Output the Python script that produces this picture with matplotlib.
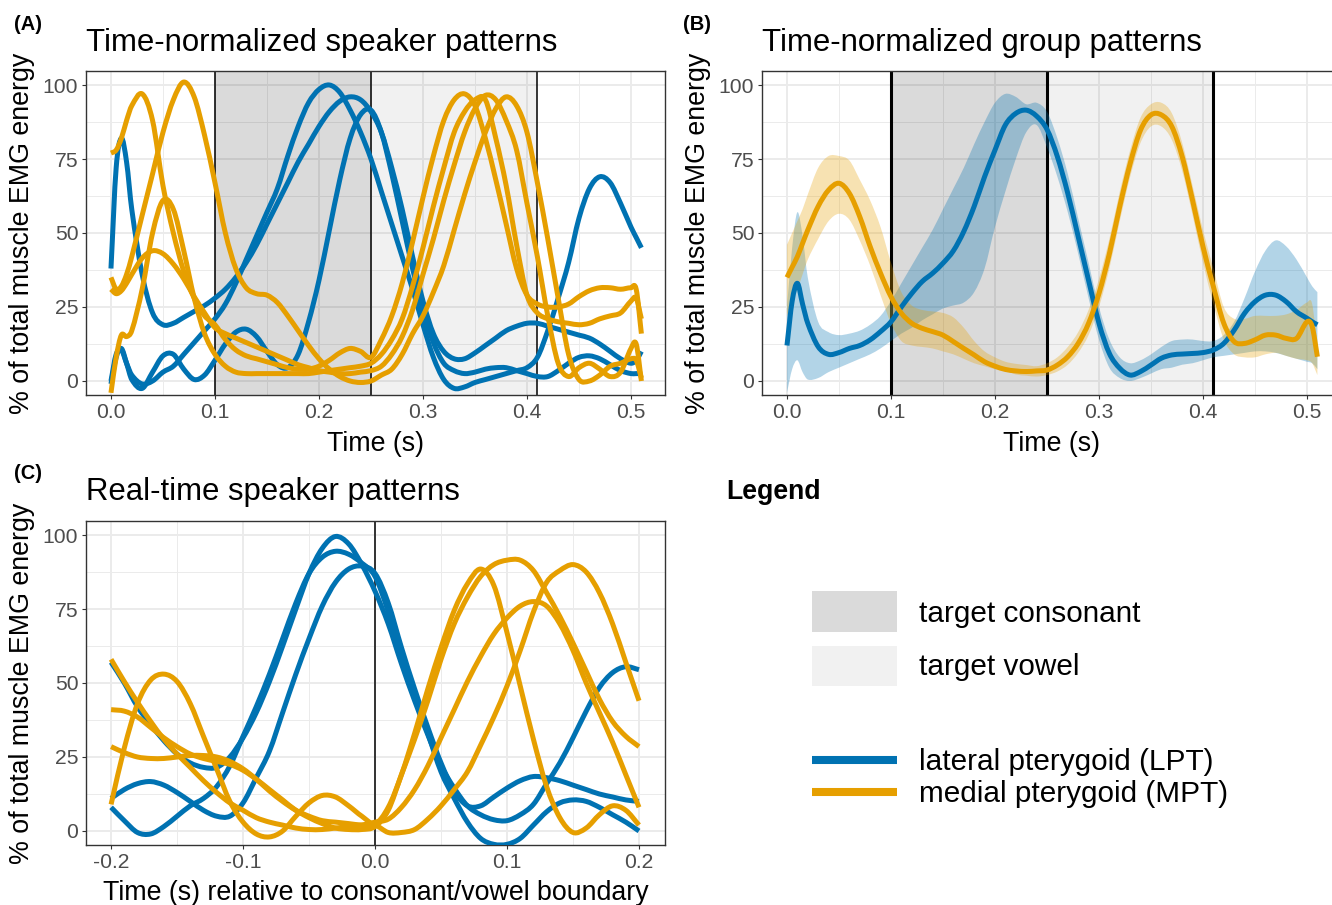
import matplotlib
matplotlib.use("Agg")
import numpy as np
import matplotlib.pyplot as plt
from matplotlib.patches import Rectangle, PathPatch
from matplotlib.lines import Line2D
from matplotlib.path import Path

plt.rcParams['font.family'] = ['Liberation Sans', 'DejaVu Sans']
plt.rcParams['axes.unicode_minus'] = False

# ---------------- data ----------------
TIME_A = [0.0, 0.005, 0.01, 0.015, 0.02] + [round(0.03 + 0.01 * i, 3) for i in range(48)] + [0.505, 0.51]

LPT_A1 = [38, 72, 82, 74, 58, 36, 23, 19, 19.5, 21.5, 23.5, 25.5, 28, 31, 35, 40, 46, 53, 60, 67,
          74, 80, 86, 91, 94.5, 96, 95, 91, 84, 72, 58, 42, 27, 16, 10, 7.5, 7.5, 9.5, 12, 14.5,
          17, 18.5, 19.5, 19.5, 18.5, 17.5, 16.5, 15.5, 14.5, 12.5, 10, 7.5, 6, 7, 10]
LPT_A2 = [0, 9, 10.5, 6, 2, -1, 0, 3, 5, 9, 13, 17, 21, 26, 33, 41, 49, 57, 65, 76,
          86, 94, 98.5, 100, 97.5, 91.5, 84, 75, 64, 53, 42, 31, 19, 8, 0.5, -2.5, -2, -0.5, 0.5, 1.5,
          2.5, 3.5, 4.5, 8, 17, 28, 40, 55, 65, 69, 67, 60, 52, 48.5, 45]
LPT_A3 = [-1, 8, 11, 6, 0.5, -2.5, 3, 8.5, 9, 4, 0.5, 2, 7, 12.5, 16.5, 17.5, 15, 10, 5.5, 4.5,
          9, 20, 34, 51, 68, 82, 90, 91.5, 84, 70, 54, 38, 24, 13, 6, 3.5, 2.5, 3, 4, 4.5,
          4.5, 3.5, 2.5, 1.5, 1.5, 3.5, 6, 8, 8.5, 7.5, 5.5, 3.5, 2.5, 2.5, 2.5]

MPT_A1 = [77, 78, 82, 88, 93, 97, 88, 66, 50, 37, 28, 22, 19, 14, 10.5, 8.5, 7.5, 6.5, 5.5, 4.5,
          4, 4, 5, 7, 9.5, 11, 10, 8, 14, 22, 33, 47, 62, 76, 88, 95, 97, 93, 82, 68,
          53, 38, 29, 26, 25, 25, 26, 28.5, 30.5, 31.5, 31.5, 31, 31.5, 31, 16]
MPT_A2 = [35, 31, 32, 36, 42, 56, 70, 84, 95, 101, 96, 83, 67, 50, 38, 31.5, 29.5, 29, 26.5, 22,
          17, 12, 7.5, 4, 1.5, 0, -0.5, 0, 2, 4, 9, 16, 22, 30, 39, 51, 63, 74, 84, 92,
          96, 93, 84, 67, 48, 28, 9, 0.5, 0, 2, 5, 6, 7.5, 7, 1]
MPT_A3 = [31, 29.5, 30.5, 33, 36, 41.5, 44, 43, 39.5, 34.5, 28.5, 23, 18, 16, 14.5, 13, 11.5, 10, 8.5, 7,
          5.5, 4.5, 3.5, 3, 2.5, 2.5, 3, 3.5, 5, 9, 15, 24, 36, 48, 61, 73, 84, 92, 96.5, 95,
          88, 78, 60, 42, 22, 6, 1.5, 4.5, 6, 4, 1.5, 3, 11, 12.5, 0]
MPT_A4 = [-4, 8, 15.5, 15, 17, 31, 50, 61, 58, 44, 28, 16, 9, 5, 3, 2.5, 2.5, 2.5, 2.5, 2.5,
          2.5, 2.5, 3, 3.5, 4, 4.5, 5, 6, 9, 14, 21, 32, 45, 59, 72, 84, 91, 95, 95, 82,
          66, 46, 29, 23, 21, 20, 19.5, 19, 19.5, 21, 22, 23, 27, 28, 21]

LPT_B_MEAN = [12, 27, 33, 26, 19.5, 11.6, 9, 9.6, 11, 12, 13.9, 16.7, 20, 25, 29.6, 33.6, 36.4, 39.8, 44, 50.5,
              59, 69, 78, 86.5, 90.4, 91.5, 89.5, 85, 75.8, 63.4, 48.8, 34, 19.5, 9.3, 4.3, 2, 3.2, 5.4, 7.7, 8.8,
              9.1, 9.3, 9.6, 10.5, 12.7, 17.2, 22.9, 26.8, 29, 29, 26.8, 23.4, 21.2, 20, 19]
LPT_B_LOW = [-4, 4, 7, 3, 0.5, 1, 3, 4.5, 6, 7.5, 9, 11, 13.5, 16, 18, 20.5, 22.5, 24.5, 25.5, 26.5,
             30, 38, 52, 64, 75, 84, 86.5, 79, 69, 57, 43, 28, 14, 4.5, 1, 0, 1, 2.5, 4, 4.5,
             5.5, 6, 7, 8, 8.5, 9, 9.5, 10, 10, 9.5, 8.5, 7.5, 6.5, 6, 4]
LPT_B_HIGH = [25, 45, 57, 49, 35, 20, 16.5, 15.5, 16, 17, 19, 22, 27, 33, 39, 45, 51, 58, 65, 72,
              80, 87.5, 94, 97, 96, 93.5, 94, 91, 82, 70, 55, 40, 25, 14, 8, 6, 7, 9, 11.5, 13.5,
              14, 14, 13.5, 13.5, 15.5, 20, 28, 37, 44, 47.5, 45.5, 41, 35, 32, 30]
MPT_B_MEAN = [35, 38.5, 42, 46.5, 51, 59, 64.5, 66.8, 63.4, 55.5, 45.4, 36.4, 28.5, 22.9, 19.5, 17.8, 16.7, 15.5, 13.3, 11,
              8.8, 6.5, 5, 3.9, 3.4, 3.2, 3.4, 3.7, 5.4, 8.2, 12.7, 19.5, 29.6, 43, 59, 73.5, 84.8, 89.9, 89.9, 86,
              75.8, 61, 45.4, 31.9, 19.5, 13.3, 12.7, 13.9, 15.5, 15.5, 14.4, 14.4, 20, 18.4, 8.2]
MPT_B_LOW = [22, 27, 31, 36, 41, 48, 54, 56.5, 54.5, 47.5, 39, 29, 19.5, 13.5, 12, 11.5, 11, 10, 9, 7.5,
             6, 5, 4, 3.5, 2.2, 1.8, 1.5, 2, 3.2, 5.5, 9.5, 15.5, 25, 38, 54, 69, 80.5, 86, 86, 81.5,
             71, 56, 40, 26, 14, 9, 8, 8, 9, 9.5, 8.5, 7.5, 7, 6, 2]
MPT_B_HIGH = [46, 50, 54, 58, 63, 72, 76, 76, 74.5, 68, 61, 52, 40, 30, 25.5, 24, 23.5, 23, 21.5, 18,
              13.5, 10, 8, 6.5, 5.8, 5.4, 5, 6, 8, 11.5, 16.5, 24, 34.5, 48, 64, 78, 89, 93.5, 94, 90.5,
              80.5, 66, 51, 38, 25, 21, 21, 22, 22, 22, 22.5, 24, 26.5, 26, 11]

TIME_C = [round(-0.2 + 0.01 * i, 2) for i in range(41)]
LPT_C1 = [57, 50, 42, 36, 30.5, 26, 23, 21.5, 21.5, 25, 31.5, 40, 50.5, 62.5, 75, 87, 95.5, 99.5, 97, 90,
          81, 70, 56.5, 44, 32.5, 22, 14.5, 8.5, 5.5, 3.8, 3.5, 5.5, 9, 16, 23, 31.5, 40.5, 48.5, 53.5, 55.5, 54.5]
LPT_C2 = [11, 14, 16, 16.7, 15.5, 13, 10, 7, 5, 5, 9.5, 18, 27, 40, 53, 65, 76, 84, 88.5, 89.5,
          87, 77, 62, 48, 35, 23, 13.5, 8.5, 8.5, 11.5, 14.5, 17, 18.4, 18, 17, 15.5, 14, 12.5, 11.5, 10.5, 10]
LPT_C3 = [8, 3.5, -0.5, -1, 1.5, 5, 8.5, 11, 15, 22, 32, 42, 53, 65, 77, 87, 92.5, 94.5, 93.5, 90.5,
          86, 74, 58, 46, 33, 20, 11, 3, -2.5, -4.5, -4.5, -2.5, 2, 6.5, 9.5, 10.5, 10, 8, 5.5, 3, 0]
MPT_C1 = [58, 50.5, 43.5, 37, 31, 26, 21.5, 17, 13, 9.5, 7, 4.5, 3, 2, 1, 0.5, 0.5, 1, 1.5, 2,
          3, 4, 8, 14, 22, 31.5, 41, 50.5, 59, 66.5, 72, 76, 77.5, 76, 70, 61, 50, 40, 30, 19, 8]
MPT_C2 = [41, 40.5, 38.5, 35, 31.5, 28.5, 26, 24.5, 23.5, 22.5, 20.5, 17.5, 14, 10.5, 7, 4.5, 2.5, 1, 0.5, 0.5,
          1.5, 7, 19, 31, 44, 58, 70, 79, 86, 90, 91.5, 91.5, 88, 80.5, 72.5, 63.5, 54, 44.5, 37, 32, 28.5]
MPT_C3 = [28.5, 26.5, 25, 24.5, 24.5, 25, 25.5, 25.5, 25, 23.5, 21, 17.5, 13.5, 10, 7, 5, 3.5, 3, 2.5, 2,
          2, -0.5, -0.5, 0.5, 4, 8.5, 14, 20, 29, 38.5, 49, 61, 74, 84, 88, 90, 87.5, 80.5, 70, 57, 44]
MPT_C4 = [9, 28, 43, 51, 53, 50.5, 43, 32, 21, 10, 3, -1, -2, 0, 5, 9.5, 12, 11.5, 8.5, 5,
          2.5, 8, 19, 33, 48, 62, 74.5, 83.5, 88.5, 83, 67, 49, 31, 15, 4.5, -0.5, 1, 5.5, 8.5, 7, 2]

X_TICKS_A = [0.0, 0.1, 0.2, 0.3, 0.4, 0.5]
X_LABELS_A = ['0.0', '0.1', '0.2', '0.3', '0.4', '0.5']
X_MINOR_A = [0.05, 0.15, 0.25, 0.35, 0.45]
X_TICKS_C = [-0.2, -0.1, 0.0, 0.1, 0.2]
X_LABELS_C = ['-0.2', '-0.1', '0.0', '0.1', '0.2']
X_MINOR_C = [-0.15, -0.05, 0.05, 0.15]
Y_TICKS = [0, 25, 50, 75, 100]
Y_LABELS = ['0', '25', '50', '75', '100']
Y_MINOR = [12.5, 37.5, 62.5, 87.5]

CONSONANT = (0.10, 0.25)
VOWEL = (0.25, 0.41)
BOUNDARIES_A = [0.10, 0.25, 0.41]
BOUNDARY_C = [0.0]

TITLES = ['Time-normalized speaker patterns', 'Time-normalized group patterns', 'Real-time speaker patterns']
TAGS = ['(A)', '(B)', '(C)']
YLABEL = '% of total muscle EMG energy'
XLABEL_A = 'Time (s)'
XLABEL_C = 'Time (s) relative to consonant/vowel boundary'
LEGEND_LABELS = ['target consonant', 'target vowel', 'lateral pterygoid (LPT)', 'medial pterygoid (MPT)']

# ---------------- style ----------------
BLUE = '#0072B2'
ORANGE = '#E69F00'
GRID = '#EBEBEB'
DARK_ALPHA = 0.145
LIGHT_ALPHA = 0.055
W, H = 1332, 905
LW = 3.6

fig = plt.figure(figsize=(W / 100, H / 100), dpi=100)


def px_axes(left, top, right, bottom):
    return fig.add_axes([left / W, 1 - bottom / H, (right - left) / W, (bottom - top) / H])


def style(ax, xlim, xticks, xlabels, xminor):
    ax.set_xlim(*xlim)
    ax.set_ylim(-4.73, 104.73)
    ax.set_xticks(xticks)
    ax.set_xticklabels(xlabels)
    ax.set_xticks(xminor, minor=True)
    ax.set_yticks(Y_TICKS)
    ax.set_yticklabels(Y_LABELS)
    ax.set_yticks(Y_MINOR, minor=True)
    ax.grid(which='major', color=GRID, lw=1.4)
    ax.grid(which='minor', color=GRID, lw=0.7)
    ax.set_axisbelow(True)
    ax.tick_params(which='major', length=3.0, width=0.8, color='#333333',
                   labelsize=15.2, labelcolor='#4D4D4D', pad=2.5)
    ax.tick_params(which='minor', length=0)
    for s in ax.spines.values():
        s.set_color('#333333')
        s.set_linewidth(1.0)


def add_phases(ax, vlw):
    ax.axvspan(*CONSONANT, color='black', alpha=DARK_ALPHA, lw=0, zorder=1)
    ax.axvspan(*VOWEL, color='black', alpha=LIGHT_ALPHA, lw=0, zorder=1)
    for b in BOUNDARIES_A:
        ax.axvline(b, color='black', lw=vlw, zorder=2)


def smooth_segments(x, y):
    """Cubic Hermite (Bezier) segments through the given points."""
    x = np.asarray(x, float)
    y = np.asarray(y, float)
    n = len(x)
    m = np.empty(n)
    m[1:-1] = (y[2:] - y[:-2]) / (x[2:] - x[:-2])
    m[0] = (y[1] - y[0]) / (x[1] - x[0])
    m[-1] = (y[-1] - y[-2]) / (x[-1] - x[-2])
    verts, codes = [], []
    for i in range(n - 1):
        h = x[i + 1] - x[i]
        verts += [(x[i] + h / 3, y[i] + m[i] * h / 3),
                  (x[i + 1] - h / 3, y[i + 1] - m[i + 1] * h / 3),
                  (x[i + 1], y[i + 1])]
        codes += [Path.CURVE4] * 3
    return verts, codes


def smooth_line(ax, x, y, color, lw=LW, z=3):
    v, c = smooth_segments(x, y)
    path = Path([(x[0], y[0])] + v, [Path.MOVETO] + c)
    ax.add_patch(PathPatch(path, fill=False, edgecolor=color, lw=lw,
                           capstyle='butt', joinstyle='round', zorder=z))


def smooth_ribbon(ax, x, lo, hi, color, alpha=0.3, z=2.5):
    vu, cu = smooth_segments(x, hi)
    vl, cl = smooth_segments(x[::-1], lo[::-1])
    verts = [(x[0], hi[0])] + vu + [(x[-1], lo[-1])] + vl + [(x[0], hi[0])]
    codes = [Path.MOVETO] + cu + [Path.LINETO] + cl + [Path.CLOSEPOLY]
    ax.add_patch(PathPatch(Path(verts, codes), facecolor=color, alpha=alpha, lw=0, zorder=z))


XLIM_A = (-0.024, 0.5327)
XLIM_C = (-0.219, 0.2197)

# Panel A
axA = px_axes(86, 71, 665, 395)
style(axA, XLIM_A, X_TICKS_A, X_LABELS_A, X_MINOR_A)
add_phases(axA, 1.1)
for y in [LPT_A1, LPT_A2, LPT_A3]:
    smooth_line(axA, TIME_A, y, BLUE)
for y in [MPT_A1, MPT_A2, MPT_A3, MPT_A4]:
    smooth_line(axA, TIME_A, y, ORANGE)

# Panel B
axB = px_axes(762, 71, 1341, 395)
style(axB, XLIM_A, X_TICKS_A, X_LABELS_A, X_MINOR_A)
add_phases(axB, 2.2)
smooth_ribbon(axB, TIME_A, LPT_B_LOW, LPT_B_HIGH, BLUE)
smooth_ribbon(axB, TIME_A, MPT_B_LOW, MPT_B_HIGH, ORANGE)
smooth_line(axB, TIME_A, LPT_B_MEAN, BLUE)
smooth_line(axB, TIME_A, MPT_B_MEAN, ORANGE)

# Panel C
axC = px_axes(86, 521, 665, 845)
style(axC, XLIM_C, X_TICKS_C, X_LABELS_C, X_MINOR_C)
for b in BOUNDARY_C:
    axC.axvline(b, color='black', lw=1.1, zorder=2)
for y in [LPT_C1, LPT_C2, LPT_C3]:
    smooth_line(axC, TIME_C, y, BLUE)
for y in [MPT_C1, MPT_C2, MPT_C3, MPT_C4]:
    smooth_line(axC, TIME_C, y, ORANGE)

# ---------------- texts ----------------
def ftext(x, y, s, **kw):
    fig.text(x / W, 1 - y / H, s, **kw)

ftext(14, 30, TAGS[0], fontsize=14.4, fontweight='bold', va='baseline')
ftext(683, 30, TAGS[1], fontsize=14.4, fontweight='bold', va='baseline')
ftext(14, 479, TAGS[2], fontsize=14.4, fontweight='bold', va='baseline')

ftext(86, 51, TITLES[0], fontsize=22.4, va='baseline')
ftext(762, 51, TITLES[1], fontsize=22.4, va='baseline')
ftext(86, 500, TITLES[2], fontsize=22.4, va='baseline')

for (x, y) in [(22, 233), (698, 233), (22, 683)]:
    ftext(x, y, YLABEL, fontsize=19.3, rotation=90, ha='center', va='center')

ftext(375.5, 451, XLABEL_A, fontsize=19.3, ha='center', va='baseline')
ftext(1051.5, 451, XLABEL_A, fontsize=19.3, ha='center', va='baseline')
ftext(375.5, 900, XLABEL_C, fontsize=19.3, ha='center', va='baseline')

# ---------------- legend panel ----------------
axL = fig.add_axes([0, 0, 1, 1], zorder=-1)
axL.set_xlim(0, W)
axL.set_ylim(H, 0)
axL.axis('off')
axL.text(726, 499, 'Legend', fontsize=19.2, fontweight='bold', va='baseline')
axL.add_patch(Rectangle((812, 591), 85, 41, facecolor='black', alpha=DARK_ALPHA, lw=0))
axL.add_patch(Rectangle((812, 646), 85, 40, facecolor='black', alpha=LIGHT_ALPHA, lw=0))
axL.add_line(Line2D([812, 897], [760, 760], color=BLUE, lw=5.8, solid_capstyle='butt'))
axL.add_line(Line2D([812, 897], [792, 792], color=ORANGE, lw=5.8, solid_capstyle='butt'))
axL.text(919, 622, LEGEND_LABELS[0], fontsize=21.4, va='baseline')
axL.text(919, 675, LEGEND_LABELS[1], fontsize=21.4, va='baseline')
axL.text(919, 770, LEGEND_LABELS[2], fontsize=21.4, va='baseline')
axL.text(919, 802, LEGEND_LABELS[3], fontsize=21.4, va='baseline')

fig.savefig('out.png', dpi=100)
